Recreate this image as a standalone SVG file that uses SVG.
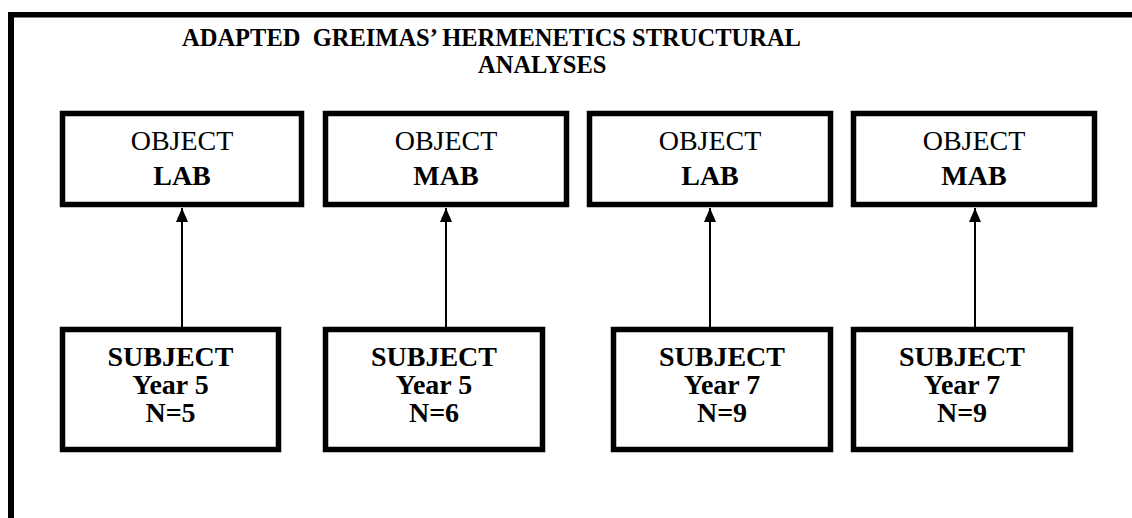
<svg xmlns="http://www.w3.org/2000/svg" width="1132" height="518" viewBox="0 0 1132 518">
<defs>
<style>
.box{fill:#fff;stroke:#000;stroke-width:5.5}
.t{font-family:"Liberation Serif","Times New Roman",serif;fill:#000;text-anchor:middle}
.r{font-size:28px}
.b{font-size:28px;font-weight:bold}
.title{font-family:"Liberation Serif","Times New Roman",serif;font-size:24.5px;font-weight:bold;fill:#000}
.conn{stroke:#000;stroke-width:2;fill:none}
</style>
<marker id="ah" viewBox="0 0 14 12" refX="14" refY="6" markerWidth="14" markerHeight="12" markerUnits="userSpaceOnUse" orient="auto">
<path d="M0,0 L14,6 L0,12 Z" fill="#000"/>
</marker>
</defs>
<rect width="1132" height="518" fill="#fff"/>
<g id="frame">
<rect x="8" y="12" width="1124" height="5.5" fill="#000"/>
<rect x="8" y="12" width="6" height="506" fill="#000"/>
</g>
<g id="title">
<text class="title" x="182" y="46" xml:space="preserve">ADAPTED  GREIMAS’ HERMENETICS STRUCTURAL</text>
<text class="title" x="478" y="73">ANALYSES</text>
</g>
<g id="connectors">
<path class="conn" d="M182,327 V208" marker-end="url(#ah)"/>
<path class="conn" d="M446,327 V208" marker-end="url(#ah)"/>
<path class="conn" d="M710,327 V208" marker-end="url(#ah)"/>
<path class="conn" d="M975,327 V208" marker-end="url(#ah)"/>
</g>
<g id="obj1">
<rect class="box" x="62.5" y="113.5" width="239" height="91"/>
<text class="t r" x="182" y="150">OBJECT</text>
<text class="t b" x="182" y="185">LAB</text>
</g>
<g id="obj2">
<rect class="box" x="325.5" y="113.5" width="241" height="91"/>
<text class="t r" x="446" y="150">OBJECT</text>
<text class="t b" x="446" y="185">MAB</text>
</g>
<g id="obj3">
<rect class="box" x="589.5" y="113.5" width="241" height="91"/>
<text class="t r" x="710" y="150">OBJECT</text>
<text class="t b" x="710" y="185">LAB</text>
</g>
<g id="obj4">
<rect class="box" x="853.5" y="113.5" width="241" height="91"/>
<text class="t r" x="974" y="150">OBJECT</text>
<text class="t b" x="974" y="185">MAB</text>
</g>
<g id="subj1">
<rect class="box" x="62.5" y="329.5" width="216" height="120"/>
<text class="t b" x="170.5" y="366">SUBJECT</text>
<text class="t b" x="170.5" y="394">Year 5</text>
<text class="t b" x="170.5" y="422">N=5</text>
</g>
<g id="subj2">
<rect class="box" x="325.5" y="329.5" width="217" height="120"/>
<text class="t b" x="434" y="366">SUBJECT</text>
<text class="t b" x="434" y="394">Year 5</text>
<text class="t b" x="434" y="422">N=6</text>
</g>
<g id="subj3">
<rect class="box" x="613.5" y="329.5" width="217" height="120"/>
<text class="t b" x="722" y="366">SUBJECT</text>
<text class="t b" x="722" y="394">Year 7</text>
<text class="t b" x="722" y="422">N=9</text>
</g>
<g id="subj4">
<rect class="box" x="853.5" y="329.5" width="217" height="120"/>
<text class="t b" x="962" y="366">SUBJECT</text>
<text class="t b" x="962" y="394">Year 7</text>
<text class="t b" x="962" y="422">N=9</text>
</g>
</svg>
